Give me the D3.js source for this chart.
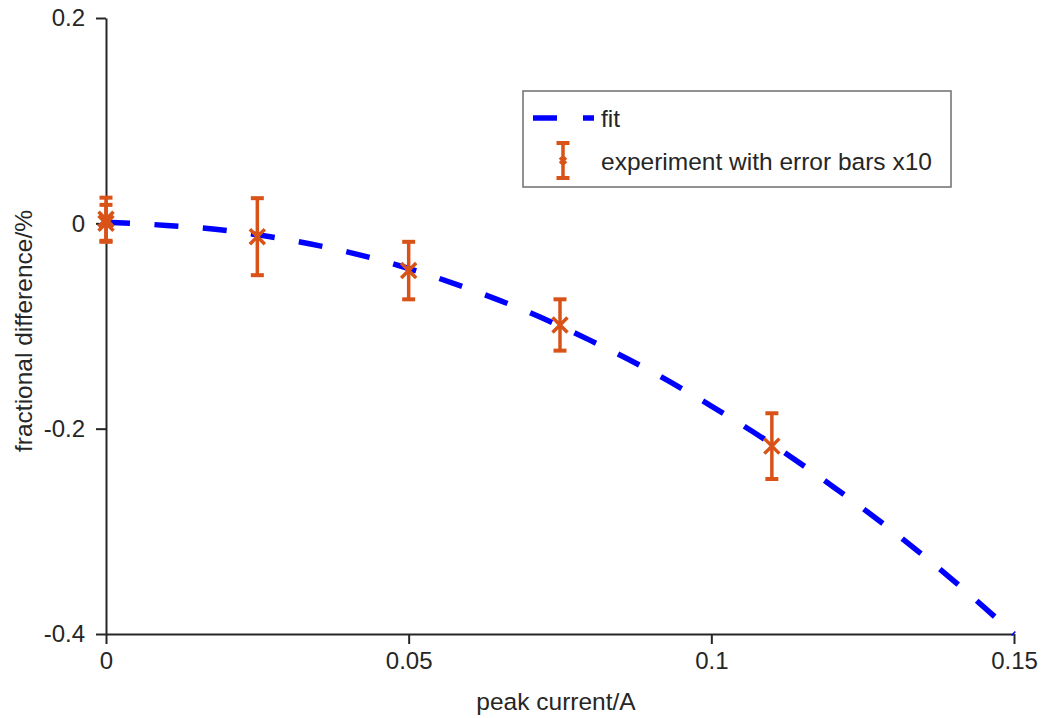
<!DOCTYPE html>
<html>
<head>
<meta charset="utf-8">
<script src="https://cdn.jsdelivr.net/npm/d3@7"></script>
<style>
  body { margin: 0; background: #fff; }
  svg text { font-family: "Liberation Sans", Arial, sans-serif; fill: #262626; }
</style>
</head>
<body>
<svg id="chart" width="1042" height="718"></svg>
<script>
// data
const fitX = [0, 0.01, 0.02, 0.03, 0.04, 0.05, 0.06, 0.07, 0.08, 0.09, 0.1, 0.11, 0.12, 0.13, 0.14, 0.15];
const fitY = [0.001, -0.002, -0.007, -0.016, -0.028, -0.044, -0.064, -0.087, -0.114, -0.144, -0.178, -0.215, -0.256, -0.3, -0.348, -0.4];

const expX = [0, 0, 0.025, 0.05, 0.075, 0.11];
const expY = [0.004, 0, -0.013, -0.046, -0.099, -0.217];
const expErr = [0.021, 0.018, 0.0375, 0.028, 0.025, 0.032];

const xTicks = [0, 0.05, 0.1, 0.15];
const yTicks = [-0.4, -0.2, 0, 0.2];

const legendLabels = ["fit", "experiment with error bars x10"];

const blue = "#0000ff";
const orange = "#d95319";
const axisColor = "#262626";

const margin = { left: 106, right: 28, top: 18, bottom: 84 };
const chartSize = { width: 1042, height: 718 };
const width = chartSize.width - margin.left - margin.right;
const height = chartSize.height - margin.top - margin.bottom;

const svg = d3.select("#chart");
const g = svg.append("g").attr("transform", `translate(${margin.left},${margin.top})`);

const x = d3.scaleLinear().domain([0, 0.15]).range([0, width]);
const y = d3.scaleLinear().domain([-0.4, 0.2]).range([height, 0]);

const fmt = d => String(d);

const xAxis = g.append("g")
  .attr("transform", `translate(0,${height})`)
  .call(d3.axisBottom(x).tickValues(xTicks).tickFormat(fmt).tickSize(10).tickSizeOuter(0).tickPadding(8));

const yAxis = g.append("g")
  .call(d3.axisLeft(y).tickValues(yTicks).tickFormat(fmt).tickSize(10).tickSizeOuter(0).tickPadding(11));

[xAxis, yAxis].forEach(a => {
  a.selectAll("path, line").attr("stroke", axisColor).attr("stroke-width", 2);
  a.selectAll("text").attr("font-size", 24).attr("fill", axisColor)
    .style("font-family", "'Liberation Sans', Arial, sans-serif");
});

g.append("text")
  .attr("x", width / 2 - 4)
  .attr("y", height + 76)
  .attr("text-anchor", "middle")
  .attr("font-size", 24.5)
  .text("peak current/A");

g.append("text")
  .attr("transform", "rotate(-90)")
  .attr("x", -height / 2 - 5)
  .attr("y", -74)
  .attr("text-anchor", "middle")
  .attr("font-size", 24.5)
  .text("fractional difference/%");

// fit curve
const line = d3.line()
  .x((d, i) => x(fitX[i]))
  .y(d => y(d))
  .curve(d3.curveMonotoneX);

g.append("path")
  .attr("d", line(fitY))
  .attr("fill", "none")
  .attr("stroke", blue)
  .attr("stroke-width", 5.5)
  .attr("stroke-dasharray", "24,24.5");

// error bars
const capHalf = 6.5;
const markHalf = 7.5;
const pts = g.append("g").attr("stroke", orange).attr("fill", "none");

expX.forEach((xv, i) => {
  const cx = x(xv);
  const top = y(expY[i] + expErr[i]);
  const bot = y(expY[i] - expErr[i]);
  const cy = y(expY[i]);
  pts.append("line").attr("x1", cx).attr("x2", cx).attr("y1", top).attr("y2", bot).attr("stroke-width", 3.5);
  pts.append("line").attr("x1", cx - capHalf).attr("x2", cx + capHalf).attr("y1", top).attr("y2", top).attr("stroke-width", 4);
  pts.append("line").attr("x1", cx - capHalf).attr("x2", cx + capHalf).attr("y1", bot).attr("y2", bot).attr("stroke-width", 4);
  pts.append("path")
    .attr("d", `M${cx - markHalf},${cy - markHalf}L${cx + markHalf},${cy + markHalf}M${cx - markHalf},${cy + markHalf}L${cx + markHalf},${cy - markHalf}`)
    .attr("stroke-width", 3.5);
});

// legend
const legend = svg.append("g").attr("transform", "translate(523,91)");
legend.append("rect")
  .attr("width", 428).attr("height", 96)
  .attr("fill", "#fff").attr("stroke", "#6e6e6e").attr("stroke-width", 1.5);

legend.append("line")
  .attr("x1", 10).attr("x2", 71).attr("y1", 27).attr("y2", 27)
  .attr("stroke", blue).attr("stroke-width", 5.5).attr("stroke-dasharray", "24,26");

const lx = 40, ly1 = 52, ly2 = 87;
legend.append("line").attr("x1", lx).attr("x2", lx).attr("y1", ly1).attr("y2", ly2).attr("stroke", orange).attr("stroke-width", 3.5);
legend.append("line").attr("x1", lx - capHalf).attr("x2", lx + capHalf).attr("y1", ly1).attr("y2", ly1).attr("stroke", orange).attr("stroke-width", 4);
legend.append("line").attr("x1", lx - capHalf).attr("x2", lx + capHalf).attr("y1", ly2).attr("y2", ly2).attr("stroke", orange).attr("stroke-width", 4);
legend.append("path")
  .attr("d", `M${lx - 3},${69.5 - 3}L${lx + 3},${69.5 + 3}M${lx - 3},${69.5 + 3}L${lx + 3},${69.5 - 3}`)
  .attr("stroke", orange).attr("stroke-width", 3.5);

legend.selectAll("text.lab")
  .data(legendLabels)
  .join("text")
  .attr("class", "lab")
  .attr("x", 78)
  .attr("y", (d, i) => i === 0 ? 36 : 79)
  .attr("font-size", 24.5)
  .text(d => d);
</script>
</body>
</html>
